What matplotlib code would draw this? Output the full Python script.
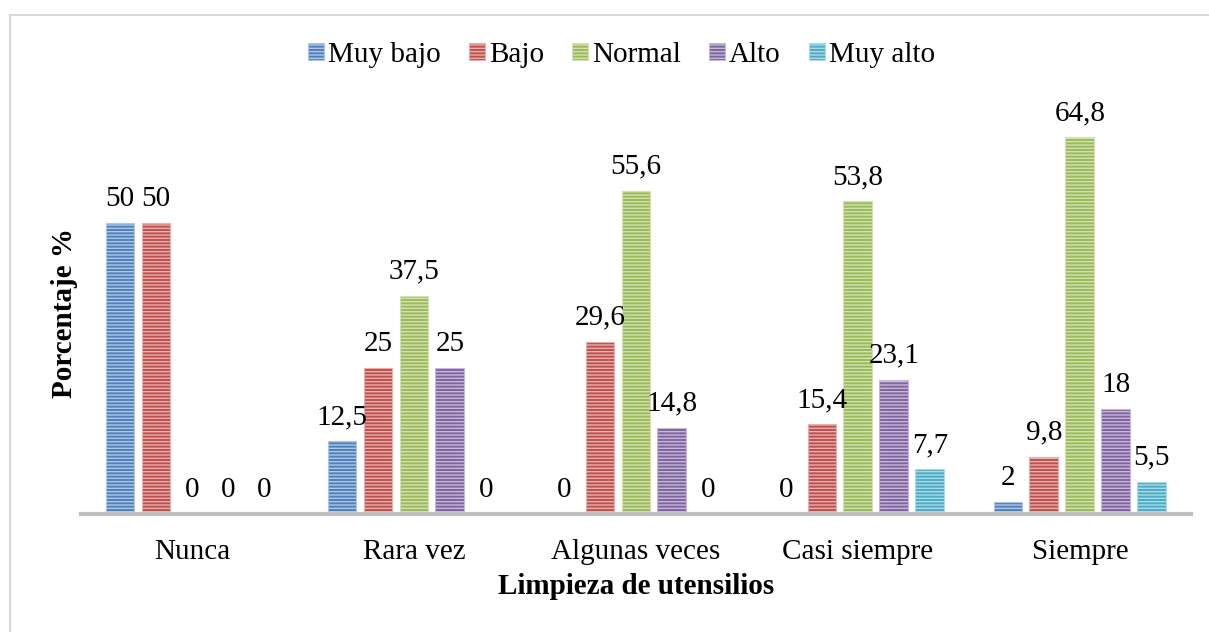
import numpy as np
import matplotlib.pyplot as plt
from matplotlib.lines import Line2D

plt.rcParams['font.family'] = ['Liberation Serif', 'DejaVu Serif']

categorias = ["Nunca", "Rara vez", "Algunas veces", "Casi siempre", "Siempre"]
series = ["Muy bajo", "Bajo", "Normal", "Alto", "Muy alto"]
muy_bajo = [50, 12.5, 0, 0, 2]
bajo = [50, 25, 29.6, 15.4, 9.8]
normal = [0, 37.5, 55.6, 53.8, 64.8]
alto = [0, 25, 14.8, 23.1, 18]
muy_alto = [0, 0, 0, 7.7, 5.5]
valores = [muy_bajo, bajo, normal, alto, muy_alto]

colores = ["#4F81BD", "#C0504D", "#9BBB59", "#8064A2", "#4BACC6"]


def aclarar(c, f=0.55):
    c = np.array(plt.matplotlib.colors.to_rgb(c))
    return tuple(c + (1 - c) * f)


fig = plt.figure(figsize=(12.09, 6.32), dpi=100)
ax = fig.add_axes([0.067, 0.187, 0.918, 0.69])

x = np.arange(len(categorias))
paso = 0.162
ancho = 0.13
for i, (nombre, vals, col) in enumerate(zip(series, valores, colores)):
    pos = x + (i - 2) * paso
    barras = ax.bar(pos, vals, ancho, color=col, edgecolor=aclarar(col),
                    hatch="-----", linewidth=0.8, label=nombre)
    for b, v in zip(barras, vals):
        txt = ("%g" % v).replace(".", ",")
        ax.text(b.get_x() + b.get_width() / 2, v + 1.9, txt,
                ha="center", va="bottom", fontsize=21)

ax.set_xlim(-0.5, len(categorias) - 0.5)
ax.set_ylim(0, 75)
ax.set_yticks([])
ax.set_xticks(x)
ax.set_xticklabels(categorias, fontsize=21)
ax.tick_params(axis="x", length=0, pad=18)
for s in ["top", "right", "left"]:
    ax.spines[s].set_visible(False)
ax.spines["bottom"].set_color("#BFBFBF")
ax.spines["bottom"].set_linewidth(3)

ax.set_xlabel("Limpieza de utensilios", fontsize=21, fontweight="bold", labelpad=6)
ax.set_ylabel("Porcentaje %", fontsize=21, fontweight="bold")
ax.yaxis.set_label_coords(-0.003, 0.46)

fig.legend(loc="center", bbox_to_anchor=(0.514, 0.913), ncol=5, frameon=False,
           fontsize=21, handlelength=0.55, handleheight=0.55, handletextpad=0.15,
           columnspacing=0.95)

# marco del grafico
fig.add_artist(Line2D([10 / 1209, 10 / 1209], [0, 1 - 15 / 632],
                      transform=fig.transFigure, color="#D9D9D9", lw=1.5))
fig.add_artist(Line2D([10 / 1209, 1], [1 - 15 / 632, 1 - 15 / 632],
                      transform=fig.transFigure, color="#D9D9D9", lw=1.5))

fig.savefig("out.png", dpi=100)
